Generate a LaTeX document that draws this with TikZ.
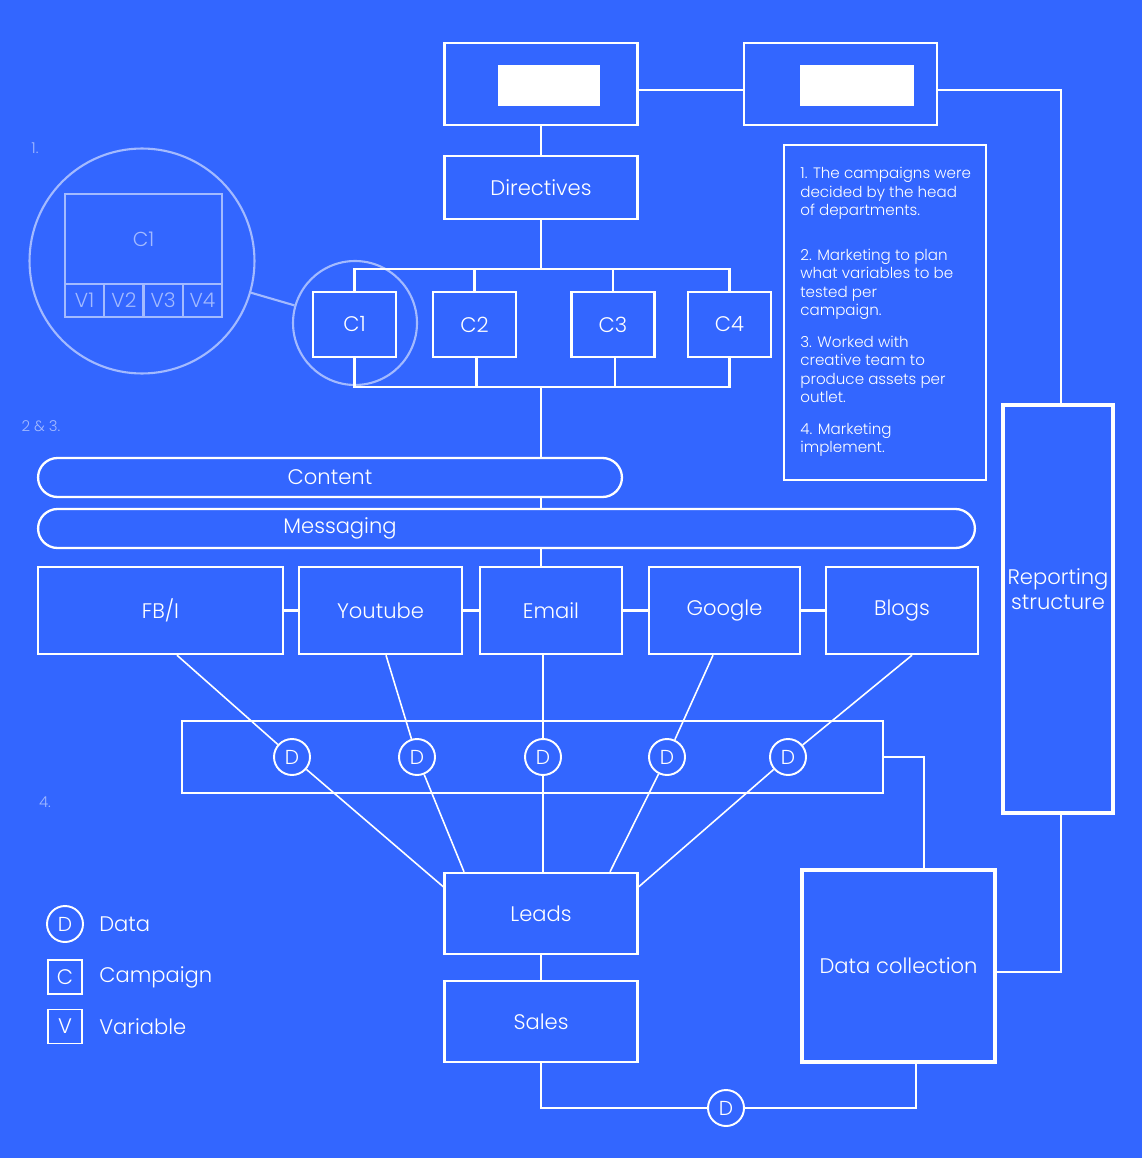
\documentclass[tikz,border=0pt]{standalone}
\usepackage{fontspec}
\setmainfont{Poppins}[UprightFont={* Light}]
\usetikzlibrary{shapes.geometric, calc}
\definecolor{bgblue}{HTML}{3366FF}
\definecolor{faint}{HTML}{A3BAFF}
\tikzstyle{box} = [rectangle, 
draw=white, 
line width=1.4pt, 
inner sep=0pt, 
text=white, 
font=\fontsize{12}{14}\selectfont]
\tikzstyle{thickbox} = [box, 
line width=2.3pt]
\tikzstyle{pill} = [rectangle, 
rounded corners=0.39cm, 
draw=white, 
line width=1.3pt, 
minimum height=0.78cm, 
inner sep=0pt, 
text=white, 
font=\fontsize{12}{14}\selectfont]
\tikzstyle{datadot} = [circle, 
draw=white, 
line width=1.1pt, 
minimum size=0.72cm, 
inner sep=0pt, 
text=white, 
font=\fontsize{11.5}{13}\selectfont]
\tikzstyle{zoom} = [draw=faint, 
line width=1.2pt, 
inner sep=0pt, 
text=faint, 
font=\fontsize{11.5}{13}\selectfont]
\tikzstyle{plaintext} = [text=white, 
inner sep=0pt, 
font=\fontsize{12}{14}\selectfont]
\tikzstyle{steplabel} = [text=faint, 
inner sep=0pt, 
font=\fontsize{8.5}{10}\selectfont]
\tikzstyle{link} = [draw=white, 
line width=1.2pt]
\tikzstyle{fan} = [draw=white, 
line width=0.9pt]

\begin{document}
\begin{tikzpicture}[x=0.02cm, y=-0.02cm]

			\fill[bgblue] (0,0) rectangle (1142,1158);
			
			\node (top1) [box, minimum width=3.86cm, minimum height=1.64cm] at (541,84) {};
			\node (blank1) [rectangle, fill=white, minimum width=2.04cm, minimum height=0.82cm] at (549,85.5) {};
			\node (top2) [box, minimum width=3.86cm, minimum height=1.64cm] at (840.5,84) {};
			\node (blank2) [rectangle, fill=white, minimum width=2.28cm, minimum height=0.82cm] at (857,85.5) {};
			
			\node (dir) [box, minimum width=3.86cm, minimum height=1.26cm] at (541,187.5) {Directives};
			
			\node (zoombig) [zoom, circle, minimum size=4.5cm] at (142,261) {};
			\node (zoomc1) [zoom, rectangle, minimum width=3.14cm, minimum height=1.8cm] at (143.5,239) {C1};
			\node (zoomv1) [zoom, rectangle, minimum width=0.785cm, minimum height=0.66cm] at (84.6,300.5) {V1};
			\node (zoomv2) [zoom, rectangle, minimum width=0.785cm, minimum height=0.66cm] at (123.9,300.5) {V2};
			\node (zoomv3) [zoom, rectangle, minimum width=0.785cm, minimum height=0.66cm] at (163.1,300.5) {V3};
			\node (zoomv4) [zoom, rectangle, minimum width=0.785cm, minimum height=0.66cm] at (202.4,300.5) {V4};
			\node (zoomsmall) [zoom, circle, minimum size=2.48cm] at (355,323) {};
			
			\node (c1) [box, minimum width=1.66cm, minimum height=1.3cm] at (354.5,324.5) {C1};
			\node (c2) [box, minimum width=1.66cm, minimum height=1.3cm] at (474.5,324.5) {C2};
			\node (c3) [box, minimum width=1.66cm, minimum height=1.3cm] at (613,324.5) {C3};
			\node (c4) [box, minimum width=1.66cm, minimum height=1.3cm] at (729.5,324.5) {C4};
			\coordinate (bustop) at (541,269);
			\coordinate (busbot) at (541,387);
			
			\node (notes) [box, line width=1.2pt, minimum width=4.04cm, minimum height=6.7cm] at (885,312.5) {};
			\node (notestext) [plaintext, anchor=north west, align=left, font=\fontsize{8.6}{10.5}\selectfont] at (800,167) {1. The campaigns were\\decided by the head\\of departments.\\[15pt]2. Marketing to plan\\what variables to be\\tested per\\campaign.\\[7.5pt]3. Worked with\\creative team to\\produce assets per\\outlet.\\[7.5pt]4. Marketing\\implement.};
			
			\node (step1) [steplabel] at (35,148) {1.};
			\node (step23) [steplabel] at (41,426) {2 \& 3.};
			\node (step4) [steplabel] at (45,802) {4.};
			
			\node (content) [pill, minimum width=11.68cm] at (330,477.5) {Content};
			\node (msg) [pill, minimum width=18.74cm] at (506.5,528.5) {};
			\node (msgtext) [plaintext] at (340,528.5) {Messaging};
			
			\node (fbi) [box, minimum width=4.9cm, minimum height=1.74cm] at (160.5,610.5) {FB/I};
			\node (youtube) [box, minimum width=3.26cm, minimum height=1.74cm] at (380.5,610.5) {Youtube};
			\node (email) [box, minimum width=2.84cm, minimum height=1.74cm] at (551,610.5) {Email};
			\node (google) [box, minimum width=3.02cm, minimum height=1.74cm] at (724.5,610.5) {Google};
			\node (blogs) [box, minimum width=3.04cm, minimum height=1.74cm] at (902,610.5) {Blogs};
			
			\node (band) [box, line width=1.2pt, minimum width=14.02cm, minimum height=1.44cm] at (532.5,757) {};
			\node (d1) [datadot] at (292,757) {D};
			\node (d2) [datadot] at (417,757) {D};
			\node (d3) [datadot] at (543,757) {D};
			\node (d4) [datadot] at (667,757) {D};
			\node (d5) [datadot] at (788,757) {D};
			
			\node (leads) [box, minimum width=3.86cm, minimum height=1.62cm] at (541,913.5) {Leads};
			\node (sales) [box, minimum width=3.86cm, minimum height=1.62cm] at (541,1021.5) {Sales};
			\node (dsale) [datadot] at (726,1108) {D};
			
			\node (dc) [thickbox, minimum width=3.86cm, minimum height=3.84cm] at (898.5,966) {Data collection};
			\node (rep) [thickbox, minimum width=2.2cm, minimum height=8.16cm] at (1058,609) {};
			\node (reptext) [plaintext, align=center] at (1058,589) {Reporting\\structure};
			
			\node (legd) [datadot] at (65,924) {D};
			\node (legdtext) [plaintext, anchor=west] at (99,924) {Data};
			\node (legc) [box, line width=1pt, minimum size=0.68cm] at (65,977) {C};
			\node (legctext) [plaintext, anchor=west] at (99,977) {Campaign};
			\node (legv) [box, line width=1pt, minimum size=0.68cm] at (65,1026.5) {V};
			\node (legvtext) [plaintext, anchor=west] at (99,1027) {Variable};
			
			\draw [zoom] (zoombig) -- (zoomsmall);
			\draw [link] ([yshift=-0.12cm]top1.east) -- ([yshift=-0.12cm]top2.west);
			\draw [link] ([yshift=-0.12cm]top2.east) -| ([xshift=0.06cm]rep.north);
			\draw [link] ([xshift=0.06cm]rep.south) |- ([yshift=-0.12cm]dc.east);
			\draw [link] (top1) -- (dir);
			\draw [link] (dir.south) -- (bustop);
			\draw [link] (c1.north) -- (c1.north |- bustop) -| (c4.north);
			\draw [link] (c2.north) -- (c2.north |- bustop);
			\draw [link] (c3.north) -- (c3.north |- bustop);
			\draw [link] (c1.south) -- (c1.south |- busbot) -| (c4.south);
			\draw [link] ([xshift=0.04cm]c2.south) -- ([xshift=0.04cm]c2.south |- busbot);
			\draw [link] ([xshift=0.04cm]c3.south) -- ([xshift=0.04cm]c3.south |- busbot);
			\draw [link] (busbot) -- (content.north -| busbot);
			\draw [link] (content.south -| busbot) -- (msg.north -| busbot);
			\draw [link] (msg.south -| busbot) -- (email.north -| busbot);
			\draw [link] (fbi) -- (youtube);
			\draw [link] (youtube) -- (email);
			\draw [link] (email) -- (google);
			\draw [link] (google) -- (blogs);
			\draw [fan] ([xshift=0.33cm]fbi.south) -- (d1) -- ([yshift=-0.3cm]leads.north west);
			\draw [fan] ([xshift=0.11cm]youtube.south) -- (d2) -- ([xshift=-1.54cm]leads.north);
			\draw [fan] (d3 |- email.south) -- (d3) -- (d3 |- leads.north);
			\draw [fan] ([xshift=-0.23cm]google.south) -- (d4) -- ([xshift=1.38cm]leads.north);
			\draw [fan] ([xshift=0.2cm]blogs.south) -- (d5) -- ([yshift=-0.3cm]leads.north east);
			\draw [link] (band.east) -| ([xshift=0.51cm]dc.north);
			\draw [link] (leads) -- (sales);
			\draw [link] (sales.south) |- (dsale);
			\draw [link] (dsale) -| ([xshift=0.35cm]dc.south);
			
\end{tikzpicture}
\end{document}
